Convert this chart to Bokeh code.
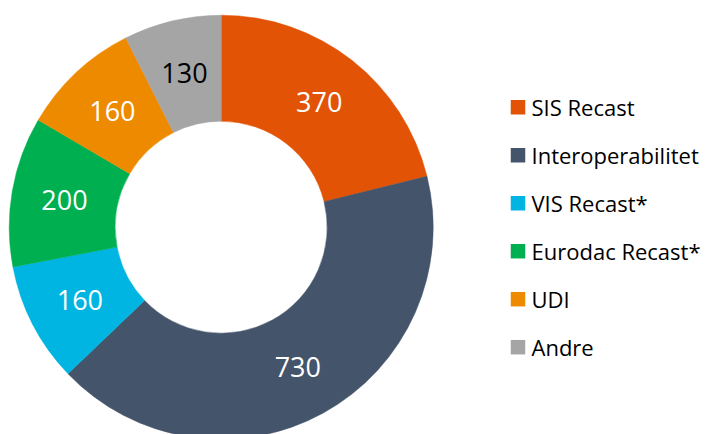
import numpy as np
from bokeh.plotting import figure
from bokeh.models import ColumnDataSource, Range1d
from bokeh.core.properties import value
from bokeh.embed import file_html
from bokeh.resources import INLINE

categories = ["SIS Recast", "Interoperabilitet", "VIS Recast*", "Eurodac Recast*", "UDI", "Andre"]
values = [370, 730, 160, 200, 160, 130]
colors = ["#E25305", "#44546A", "#00B5E2", "#00B050", "#EE8A00", "#A5A5A5"]
label_colors = ["white", "white", "white", "white", "white", "black"]

W, H = 712, 434
cx, cy = 220.7, H - 226.7
R_out, R_in = 212, 106

vals = np.array(values, dtype=float)
frac = vals / vals.sum()
cum = np.concatenate([[0], np.cumsum(frac)])
start = np.pi / 2 - 2 * np.pi * cum[:-1]
end = np.pi / 2 - 2 * np.pi * cum[1:]
mid = (start + end) / 2
r_mid = (R_out + R_in) / 2

src = ColumnDataSource(dict(
    cat=categories, val=[str(v) for v in values], color=colors, lc=label_colors,
    start=start, end=end,
    lx=cx + r_mid * np.cos(mid), ly=cy + r_mid * np.sin(mid),
))

p = figure(width=W, height=H, output_backend="svg", toolbar_location=None,
           x_range=Range1d(0, W), y_range=Range1d(0, H), min_border=0,
           outline_line_color=None, background_fill_color="white")
p.axis.visible = False
p.grid.visible = False

p.annular_wedge(x=cx, y=cy, inner_radius=R_in, outer_radius=R_out,
                start_angle="end", end_angle="start", direction="anticlock",
                fill_color="color", line_color="color", line_width=0.5, source=src)

p.text(x="lx", y="ly", text="val", text_color="lc", text_align="center",
       text_baseline="middle", text_font=value("Open Sans"),
       text_font_size="27px", source=src)

# legend
n = len(categories)
leg_y = [H - (106.7 + 48 * i) for i in range(n)]
leg = ColumnDataSource(dict(cat=categories, color=colors, y=leg_y))
p.rect(x=517.5, y="y", width=14.5, height=14.5, fill_color="color",
       line_color=None, source=leg)
p.text(x=531, y="y", text="cat", text_color="black", text_baseline="middle",
       text_font=value("Open Sans"), text_font_size="22px", source=leg)

open("out.html", "w").write(file_html(p, INLINE))
